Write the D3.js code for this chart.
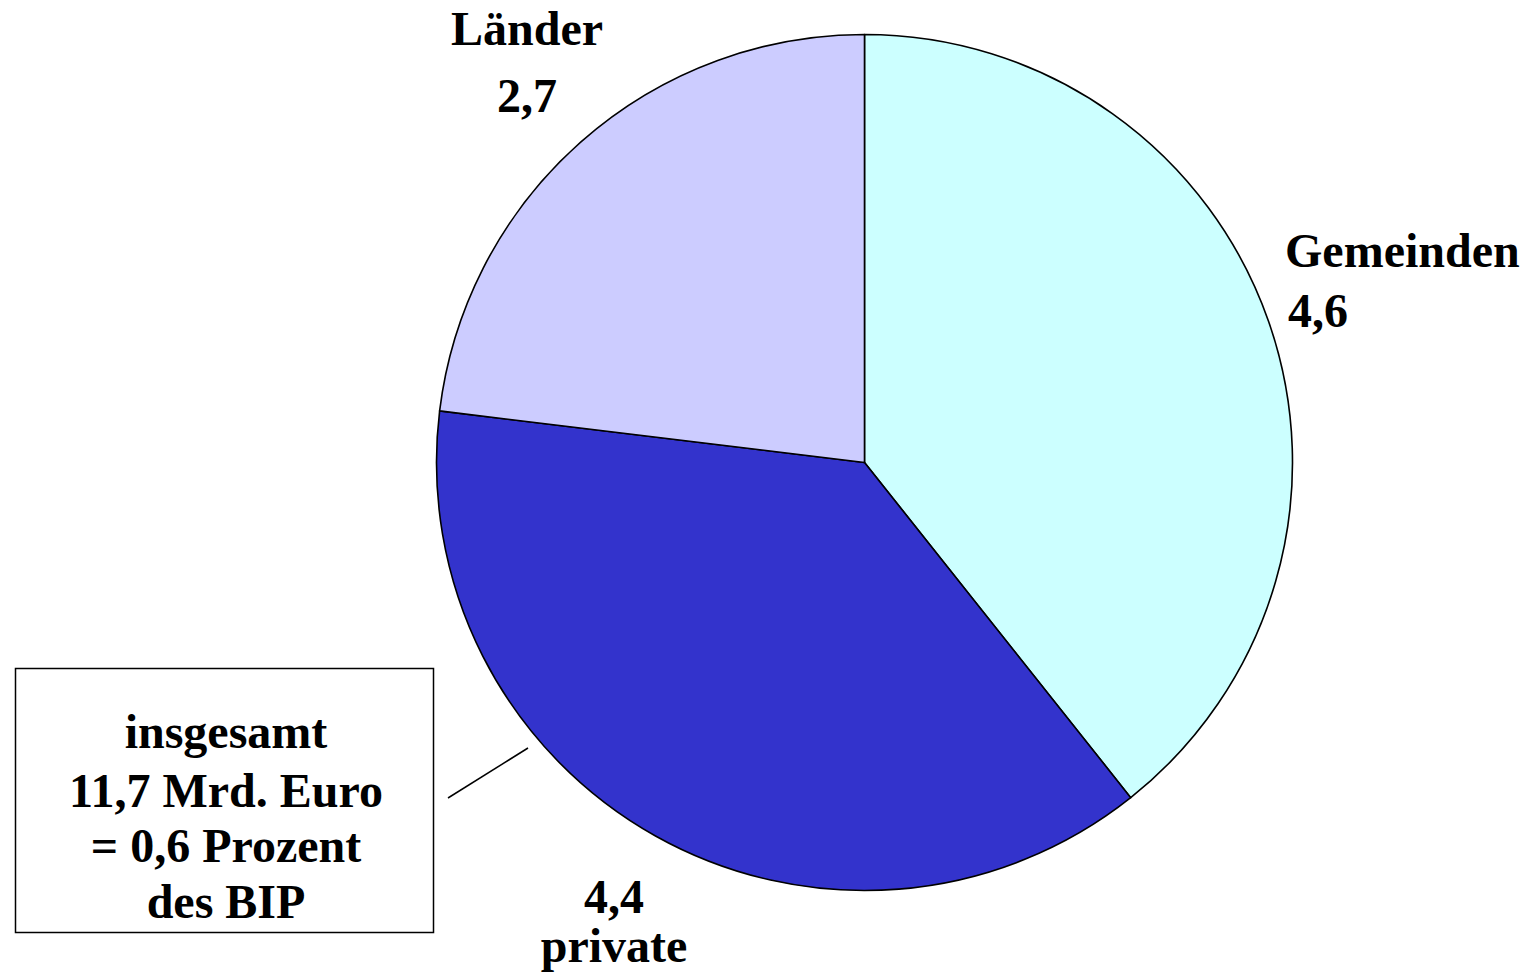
<!DOCTYPE html>
<html>
<head>
<meta charset="utf-8">
<script src="https://cdn.jsdelivr.net/npm/d3@7"></script>
<style>
  html, body { margin: 0; padding: 0; background: #fff; }
  svg { display: block; }
  text { font-family: "Liberation Serif", "Times New Roman", serif; font-weight: bold; font-size: 48px; fill: #000; }
</style>
</head>
<body>
<svg id="chart" width="1526" height="978"></svg>
<script>
// Shares in Mrd. Euro
const categories = ["Gemeinden", "private", "Länder"];
const values = [4.6, 4.4, 2.7];
const colors = ["#CCFFFF", "#3333CC", "#CCCCFF"];
const totalLines = ["insgesamt", "11,7 Mrd. Euro", "= 0,6 Prozent", "des BIP"];

const fmt = v => d3.format(".1f")(v).replace(".", ",");

const svg = d3.select("#chart");
const cx = 864.5, cy = 462.5, radius = 428;

const pie = d3.pie().sort(null).value(d => d.value);
const arc = d3.arc().innerRadius(0).outerRadius(radius);
const data = categories.map((c, i) => ({ name: c, value: values[i], color: colors[i] }));

const g = svg.append("g").attr("transform", `translate(${cx},${cy})`);
g.selectAll("path")
  .data(pie(data))
  .join("path")
  .attr("d", arc)
  .attr("fill", d => d.data.color)
  .attr("stroke", "#000")
  .attr("stroke-width", 1.6)
  .attr("stroke-linejoin", "round");

// Slice labels: name and value
const labelLayout = {
  "Länder":    { x: 527,  y: [45, 112],  anchor: "middle", order: ["name", "value"] },
  "Gemeinden": { x: 1285, y: [267, 327], anchor: "start",  order: ["name", "value"] },
  "private":   { x: 614,  y: [913, 962], anchor: "middle", order: ["value", "name"] }
};
data.forEach(d => {
  const L = labelLayout[d.name];
  L.order.forEach((k, i) => {
    svg.append("text")
      .attr("x", L.x + (d.name === "Gemeinden" && k === "value" ? 3 : 0))
      .attr("y", L.y[i])
      .attr("text-anchor", L.anchor)
      .text(k === "name" ? d.name : fmt(d.value));
  });
});

// Total box with leader line
svg.append("rect")
  .attr("x", 15.5).attr("y", 668.5)
  .attr("width", 418).attr("height", 264)
  .attr("fill", "#fff").attr("stroke", "#000").attr("stroke-width", 1.5);
svg.append("line")
  .attr("x1", 448).attr("y1", 798).attr("x2", 528).attr("y2", 748)
  .attr("stroke", "#000").attr("stroke-width", 1.5);
const boxBaselines = [748, 807, 862, 918];
totalLines.forEach((t, i) => {
  svg.append("text")
    .attr("x", 226).attr("y", boxBaselines[i])
    .attr("text-anchor", "middle")
    .text(t);
});
</script>
</body>
</html>
